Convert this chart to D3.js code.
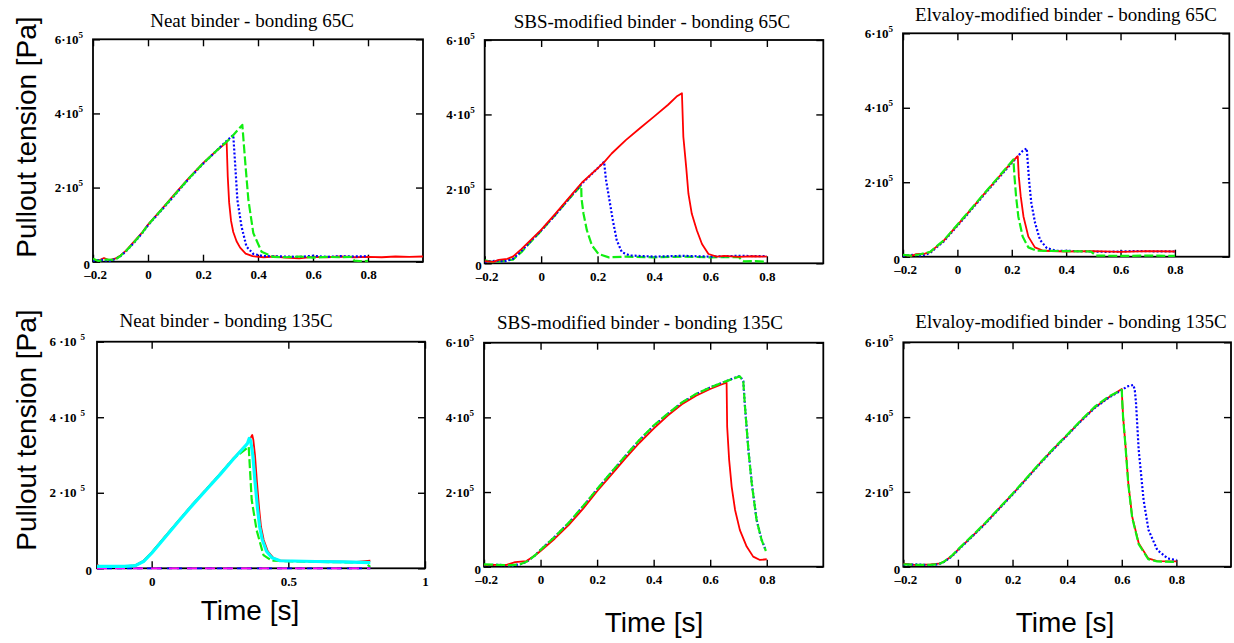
<!DOCTYPE html>
<html>
<head>
<meta charset="utf-8">
<script src="https://cdn.jsdelivr.net/npm/d3@7"></script>
<style>
body { margin: 0; background: #fff; }
</style>
</head>
<body>
<div id="chart"></div>
<script>
// time in s, tension in units of 1e5 Pa
var neat65Red = [[-0.2,0.06],[-0.18,0.03],[-0.16,0.1],[-0.14,0.04],[-0.12,0.08],[-0.1,0.17],[-0.08,0.3],[-0.05,0.55],[-0.02,0.8],[0,1.0],[0.05,1.42],[0.1,1.85],[0.15,2.27],[0.2,2.66],[0.25,3.0],[0.286,3.22],[0.29,2.3],[0.295,1.6],[0.302,1.1],[0.31,0.8],[0.322,0.55],[0.335,0.38],[0.355,0.22],[0.38,0.15],[0.42,0.12],[0.46,0.14],[0.5,0.11],[0.55,0.09],[0.6,0.13],[0.65,0.12],[0.7,0.14],[0.75,0.12],[0.8,0.13],[0.85,0.12],[0.9,0.14],[0.95,0.13],[1.0,0.14]];
var neat65Blue = [[-0.2,0.03],[-0.17,0.05],[-0.14,0.02],[-0.12,0.07],[-0.1,0.15],[-0.08,0.28],[-0.05,0.52],[-0.02,0.78],[0,0.98],[0.05,1.4],[0.1,1.82],[0.15,2.25],[0.2,2.64],[0.25,3.0],[0.28,3.22],[0.3,3.35],[0.31,3.42],[0.316,2.74],[0.325,1.67],[0.34,0.95],[0.358,0.41],[0.383,0.21],[0.42,0.15],[0.5,0.14],[0.55,0.13],[0.6,0.16],[0.65,0.13],[0.7,0.15],[0.75,0.14],[0.8,0.15]];
var neat65Green = [[-0.2,0.08],[-0.18,0.02],[-0.15,0.06],[-0.12,0.05],[-0.1,0.16],[-0.08,0.29],[-0.05,0.53],[-0.02,0.79],[0,0.99],[0.05,1.41],[0.1,1.83],[0.15,2.26],[0.2,2.65],[0.25,3.0],[0.3,3.33],[0.32,3.5],[0.343,3.69],[0.353,2.74],[0.365,1.67],[0.383,0.77],[0.413,0.27],[0.455,0.13],[0.5,0.12],[0.55,0.14],[0.6,0.11],[0.65,0.13],[0.7,0.12],[0.74,0.13],[0.75,0.03],[0.78,0.01],[0.8,0.02]];

var sbs65Red = [[-0.2,0.06],[-0.17,0.04],[-0.15,0.09],[-0.12,0.12],[-0.1,0.18],[-0.07,0.38],[-0.04,0.6],[0,0.9],[0.05,1.33],[0.1,1.77],[0.145,2.17],[0.2,2.55],[0.225,2.73],[0.25,2.95],[0.3,3.31],[0.35,3.63],[0.4,3.94],[0.45,4.26],[0.48,4.48],[0.499,4.57],[0.504,3.4],[0.514,2.59],[0.522,1.87],[0.534,1.33],[0.552,0.88],[0.57,0.52],[0.593,0.25],[0.622,0.18],[0.65,0.2],[0.7,0.17],[0.75,0.19],[0.8,0.18]];
var sbs65Blue = [[-0.2,0.04],[-0.16,0.07],[-0.13,0.05],[-0.1,0.12],[-0.07,0.33],[-0.04,0.57],[0,0.88],[0.05,1.3],[0.1,1.75],[0.145,2.15],[0.2,2.55],[0.223,2.73],[0.23,2.24],[0.242,1.7],[0.254,1.16],[0.268,0.62],[0.286,0.3],[0.315,0.21],[0.4,0.18],[0.5,0.2],[0.6,0.18],[0.7,0.2],[0.8,0.19]];
var sbs65Green = [[-0.2,0.08],[-0.17,0.03],[-0.14,0.06],[-0.1,0.1],[-0.07,0.3],[-0.04,0.55],[0,0.87],[0.05,1.3],[0.1,1.74],[0.142,2.09],[0.143,1.75],[0.15,1.34],[0.162,0.89],[0.18,0.48],[0.203,0.25],[0.24,0.16],[0.3,0.18],[0.4,0.16],[0.5,0.18],[0.6,0.16],[0.7,0.17],[0.711,0.09],[0.72,0.05],[0.76,0.06],[0.8,0.04]];

var elv65Red = [[-0.2,0.04],[-0.17,0.02],[-0.15,0.07],[-0.12,0.08],[-0.1,0.12],[-0.08,0.25],[-0.05,0.43],[0,0.85],[0.05,1.27],[0.1,1.7],[0.15,2.12],[0.2,2.54],[0.222,2.7],[0.226,2.15],[0.233,1.62],[0.243,1.08],[0.261,0.54],[0.285,0.25],[0.316,0.16],[0.4,0.14],[0.5,0.15],[0.6,0.13],[0.7,0.15],[0.8,0.14]];
var elv65Blue = [[-0.2,0.02],[-0.16,0.05],[-0.13,0.03],[-0.1,0.1],[-0.08,0.23],[-0.05,0.41],[0,0.83],[0.05,1.25],[0.1,1.68],[0.15,2.1],[0.2,2.52],[0.22,2.68],[0.24,2.84],[0.255,2.91],[0.264,2.02],[0.272,1.44],[0.286,0.9],[0.304,0.45],[0.329,0.23],[0.365,0.16],[0.45,0.15],[0.55,0.13],[0.65,0.15],[0.8,0.14]];
var elv65Green = [[-0.2,0.05],[-0.17,0.03],[-0.14,0.06],[-0.1,0.13],[-0.08,0.26],[-0.05,0.44],[0,0.86],[0.05,1.28],[0.1,1.71],[0.15,2.13],[0.206,2.61],[0.21,2.15],[0.216,1.61],[0.224,1.08],[0.24,0.54],[0.261,0.25],[0.292,0.16],[0.4,0.15],[0.49,0.14],[0.51,0.03],[0.6,0.02],[0.7,0.03],[0.8,0.02]];

var neat135Red = [[-0.2,0.1],[-0.19,0.04],[-0.15,0.05],[-0.1,0.06],[-0.06,0.08],[-0.03,0.2],[0,0.42],[0.05,0.85],[0.1,1.28],[0.15,1.7],[0.2,2.1],[0.25,2.5],[0.3,2.92],[0.35,3.3],[0.368,3.53],[0.372,3.4],[0.378,3.0],[0.385,2.3],[0.393,1.6],[0.4,1.1],[0.41,0.75],[0.425,0.45],[0.445,0.28],[0.47,0.2],[0.55,0.19],[0.65,0.18],[0.75,0.17],[0.8,0.2]];
var neat135Green = [[-0.2,0.05],[-0.1,0.05],[-0.06,0.07],[-0.03,0.18],[0,0.41],[0.05,0.84],[0.1,1.27],[0.15,1.69],[0.2,2.09],[0.25,2.49],[0.3,2.91],[0.355,3.22],[0.366,1.81],[0.384,1.01],[0.409,0.35],[0.44,0.2],[0.6,0.17],[0.78,0.15],[0.8,0.04]];
var neat135Blue = [[-0.2,0],[0.8,0]];
var neat135Magenta = [[-0.2,0],[0.8,0]];
var neat135Cyan = [[-0.2,0.05],[-0.1,0.05],[-0.06,0.07],[-0.03,0.18],[0,0.4],[0.05,0.83],[0.1,1.26],[0.15,1.68],[0.2,2.08],[0.25,2.48],[0.3,2.9],[0.35,3.3],[0.357,3.44],[0.362,3.38],[0.37,3.0],[0.378,2.3],[0.387,1.6],[0.395,1.1],[0.405,0.75],[0.42,0.45],[0.44,0.28],[0.47,0.2],[0.6,0.18],[0.7,0.17],[0.8,0.15]];

var sbs135Red = [[-0.2,0.05],[-0.12,0.05],[-0.09,0.12],[-0.05,0.15],[-0.02,0.3],[0,0.42],[0.05,0.75],[0.1,1.12],[0.15,1.55],[0.2,2.02],[0.25,2.46],[0.3,2.9],[0.35,3.32],[0.4,3.7],[0.45,4.05],[0.5,4.35],[0.55,4.58],[0.6,4.76],[0.64,4.88],[0.658,4.93],[0.66,3.75],[0.667,2.86],[0.676,2.14],[0.688,1.52],[0.705,0.98],[0.729,0.54],[0.752,0.27],[0.776,0.18],[0.8,0.2]];
var sbs135Blue = [[-0.2,0.04],[-0.15,0.05],[-0.1,0.03],[-0.07,0.07],[-0.05,0.13],[-0.02,0.3],[0,0.45],[0.05,0.8],[0.1,1.17],[0.15,1.61],[0.2,2.07],[0.25,2.52],[0.3,2.96],[0.35,3.39],[0.4,3.77],[0.45,4.09],[0.5,4.39],[0.55,4.62],[0.6,4.8],[0.65,4.95],[0.68,5.04],[0.705,5.11],[0.717,4.97],[0.723,4.3],[0.735,3.14],[0.747,2.24],[0.764,1.26],[0.782,0.72],[0.797,0.43]];
var sbs135Green = [[-0.2,0.06],[-0.15,0.05],[-0.1,0.04],[-0.07,0.07],[-0.05,0.13],[-0.02,0.3],[0,0.45],[0.05,0.8],[0.1,1.18],[0.15,1.62],[0.2,2.08],[0.25,2.53],[0.3,2.97],[0.35,3.4],[0.4,3.78],[0.45,4.1],[0.5,4.4],[0.55,4.63],[0.6,4.8],[0.65,4.95],[0.68,5.03],[0.705,5.1],[0.717,4.96],[0.723,4.29],[0.735,3.13],[0.747,2.23],[0.764,1.25],[0.782,0.71],[0.797,0.42]];

var elv135Red = [[-0.2,0.08],[-0.15,0.04],[-0.1,0.06],[-0.07,0.08],[-0.05,0.14],[-0.02,0.3],[0,0.45],[0.05,0.8],[0.1,1.16],[0.15,1.55],[0.2,1.94],[0.25,2.35],[0.3,2.76],[0.35,3.15],[0.4,3.52],[0.45,3.9],[0.5,4.25],[0.55,4.52],[0.6,4.75],[0.602,4.4],[0.605,4.0],[0.613,3.3],[0.624,2.23],[0.638,1.34],[0.662,0.63],[0.697,0.22],[0.73,0.15],[0.8,0.14]];
var elv135Blue = [[-0.2,0.05],[-0.15,0.06],[-0.1,0.04],[-0.07,0.07],[-0.05,0.13],[-0.02,0.29],[0,0.44],[0.05,0.79],[0.1,1.15],[0.15,1.54],[0.2,1.93],[0.25,2.34],[0.3,2.75],[0.35,3.14],[0.4,3.51],[0.45,3.89],[0.5,4.24],[0.55,4.51],[0.6,4.72],[0.62,4.82],[0.643,4.86],[0.648,4.7],[0.652,4.4],[0.662,3.12],[0.68,1.78],[0.698,0.98],[0.73,0.45],[0.768,0.22],[0.8,0.18]];
var elv135Green = [[-0.2,0.06],[-0.15,0.05],[-0.1,0.05],[-0.07,0.07],[-0.05,0.14],[-0.02,0.31],[0,0.46],[0.05,0.81],[0.1,1.17],[0.15,1.56],[0.2,1.95],[0.25,2.36],[0.3,2.77],[0.35,3.16],[0.4,3.53],[0.45,3.91],[0.5,4.27],[0.55,4.54],[0.6,4.73],[0.602,4.38],[0.605,3.98],[0.613,3.28],[0.624,2.2],[0.638,1.32],[0.662,0.6],[0.697,0.2],[0.73,0.14],[0.8,0.13]];

var xTicksFine = [-0.2, 0, 0.2, 0.4, 0.6, 0.8];
var xTicksCoarse = [0, 0.5, 1];
var yTicks = [0, 2, 4, 6];

// line styles
var styles = {
  red: {color: "#ff0000", width: 1.8, dash: null},
  blue: {color: "#0000ff", width: 2.2, dash: "2,2"},
  green: {color: "#11ee11", width: 2.2, dash: "9,3"},
  blueDash: {color: "#0000ff", width: 1.8, dash: "5,5"},
  magenta: {color: "#ff00ff", width: 1.8, dash: "10,8"},
  cyan: {color: "#00ffff", width: 3.2, dash: null}
};

var panels = [
  {title: "Neat binder - bonding 65C", left: 93, top: 39.3, w: 330, h: 222.4, tx: 252, ty: 26.5, xt: xTicksFine, spaced: false,
    series: [[neat65Red, "red"], [neat65Blue, "blue"], [neat65Green, "green"]]},
  {title: "SBS-modified binder - bonding 65C", left: 484.7, top: 40, w: 338.6, h: 223.3, tx: 652, ty: 27.5, xt: xTicksFine, spaced: false,
    series: [[sbs65Green, "green"], [sbs65Blue, "blue"], [sbs65Red, "red"]]},
  {title: "Elvaloy-modified binder - bonding 65C", left: 903, top: 33.3, w: 326.3, h: 223.4, tx: 1066, ty: 20.5, xt: xTicksFine, spaced: false,
    series: [[elv65Blue, "blue"], [elv65Red, "red"], [elv65Green, "green"]]},
  {title: "Neat binder - bonding 135C", left: 97, top: 341.7, w: 328, h: 226.6, tx: 226, ty: 327, xt: xTicksCoarse, spaced: true,
    series: [[neat135Red, "red"], [neat135Green, "green"], [neat135Blue, "blueDash"], [neat135Magenta, "magenta"], [neat135Cyan, "cyan"]]},
  {title: "SBS-modified binder - bonding 135C", left: 484, top: 342.7, w: 339.3, h: 224, tx: 640, ty: 329, xt: xTicksFine, spaced: false,
    series: [[sbs135Blue, "blue"], [sbs135Red, "red"], [sbs135Green, "green"]]},
  {title: "Elvaloy-modified binder - bonding 135C", left: 903.3, top: 342.3, w: 327.7, h: 224.4, tx: 1071, ty: 328, xt: xTicksFine, spaced: false,
    series: [[elv135Red, "red"], [elv135Blue, "blue"], [elv135Green, "green"]]}
];

var svg = d3.select("#chart").append("svg")
  .attr("width", 1234)
  .attr("height", 643);

var serif = "'Liberation Serif', 'Times New Roman', serif";
var sans = "'Liberation Sans', Arial, sans-serif";

function fmtX(d) {
  return d < 0 ? "\u2013" + Math.abs(d) : String(d);
}

panels.forEach(function(p, i) {
  var x = d3.scaleLinear().domain([-0.2, 1.0]).range([0, p.w]);
  var y = d3.scaleLinear().domain([0, 6]).range([p.h, 0]);

  var g = svg.append("g").attr("transform", `translate(${p.left},${p.top})`);

  svg.append("text")
    .attr("x", p.tx).attr("y", p.ty)
    .attr("text-anchor", "middle")
    .attr("font-family", serif)
    .attr("font-size", 19)
    .text(p.title);

  // axes, ticks point inward on all four sides
  var xb = g.append("g")
    .attr("transform", `translate(0,${p.h})`)
    .call(d3.axisBottom(x).tickValues(p.xt).tickSizeInner(-7).tickSizeOuter(0).tickPadding(8).tickFormat(fmtX));
  xb.select(".domain").remove();
  xb.selectAll("text")
    .attr("font-family", serif)
    .attr("font-size", 13)
    .attr("font-weight", "bold")
    .attr("fill", "#000")
    .attr("dx", d => d < 0 ? 2 : 0);

  var xt = g.append("g")
    .call(d3.axisTop(x).tickValues(p.xt).tickSizeInner(-7).tickSizeOuter(0).tickFormat(""));
  xt.select(".domain").remove();

  var yl = g.append("g")
    .call(d3.axisLeft(y).tickValues(yTicks).tickSizeInner(-7).tickSizeOuter(0).tickPadding(p.spaced ? 12 : 10));
  yl.select(".domain").remove();
  yl.selectAll("text").each(function(d) {
    var t = d3.select(this)
      .text(null)
      .attr("font-family", serif)
      .attr("font-size", 13)
      .attr("font-weight", "bold")
      .attr("fill", "#000");
    if (d === 0) {
      t.attr("x", p.spaced ? -5 : -3).attr("dy", "0.5em").text("0");
    } else {
      t.append("tspan").text(p.spaced ? d + " \u00b710" : d + "\u00b710");
      t.append("tspan").attr("font-size", 9).attr("dy", -6).attr("dx", p.spaced ? 4 : 0).text("5");
    }
  });

  var yr = g.append("g")
    .attr("transform", `translate(${p.w},0)`)
    .call(d3.axisRight(y).tickValues(yTicks).tickSizeInner(-7).tickSizeOuter(0).tickFormat(""));
  yr.select(".domain").remove();

  g.selectAll(".tick line").attr("stroke", "#000").attr("stroke-width", 1.4);

  g.append("rect")
    .attr("width", p.w).attr("height", p.h)
    .attr("fill", "none")
    .attr("stroke", "#000")
    .attr("stroke-width", 1.8);

  // data curves on top of the frame, clipped to the plot box
  g.append("clipPath").attr("id", "clip" + i)
    .append("rect").attr("y", -2).attr("width", p.w).attr("height", p.h + 4);

  var line = d3.line().x(d => x(d[0])).y(d => y(d[1]));

  var lines = g.append("g").attr("clip-path", `url(#clip${i})`);
  p.series.forEach(function(s) {
    var st = styles[s[1]];
    lines.append("path")
      .datum(s[0])
      .attr("fill", "none")
      .attr("stroke", st.color)
      .attr("stroke-width", st.width)
      .attr("stroke-dasharray", st.dash)
      .attr("stroke-linejoin", "round")
      .attr("d", line);
  });
});

// axis titles
[137, 430].forEach(function(cy) {
  svg.append("text")
    .attr("transform", `translate(36,${cy}) rotate(-90)`)
    .attr("text-anchor", "middle")
    .attr("font-family", sans)
    .attr("font-size", 28)
    .text("Pullout tension [Pa]");
});

[[250, 620], [654, 632], [1065, 632]].forEach(function(c) {
  svg.append("text")
    .attr("x", c[0]).attr("y", c[1])
    .attr("text-anchor", "middle")
    .attr("font-family", sans)
    .attr("font-size", 28)
    .text("Time [s]");
});
</script>
</body>
</html>
